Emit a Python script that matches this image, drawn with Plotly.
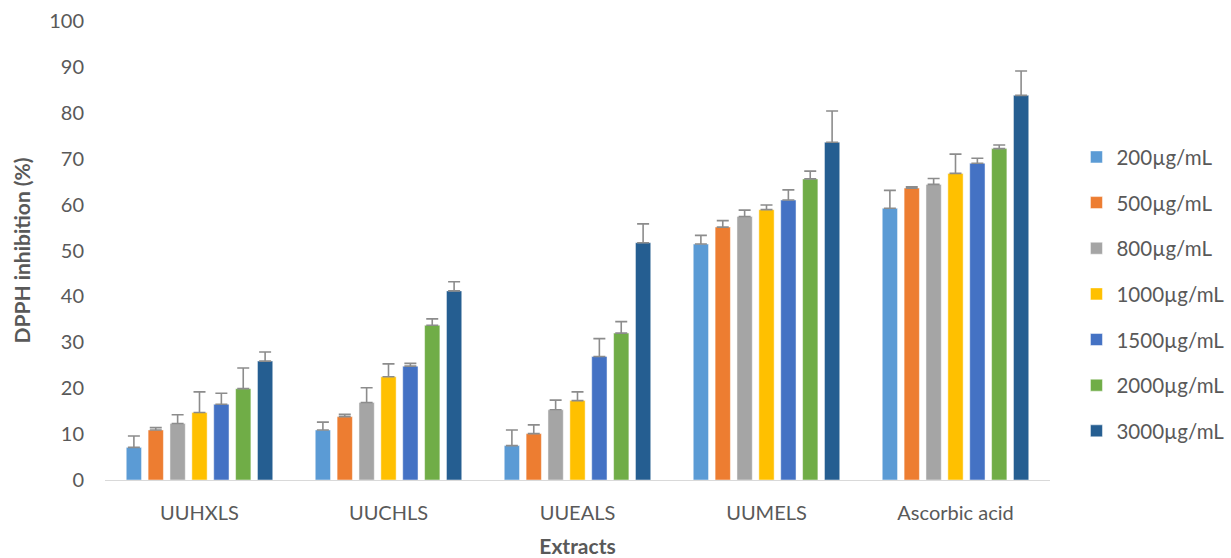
import plotly.graph_objects as go

extracts = ["UUHXLS", "UUCHLS", "UUEALS", "UUMELS", "Ascorbic acid"]
concentrations = ["200µg/mL", "500µg/mL", "800µg/mL", "1000µg/mL",
                  "1500µg/mL", "2000µg/mL", "3000µg/mL"]

# mean DPPH inhibition (%) per concentration, one value per extract
inhibition_200 = [7.1, 10.9, 7.5, 51.4, 59.2]
inhibition_500 = [10.9, 13.8, 10.1, 55.1, 63.6]
inhibition_800 = [12.3, 16.9, 15.3, 57.4, 64.4]
inhibition_1000 = [14.7, 22.5, 17.3, 58.9, 66.8]
inhibition_1500 = [16.5, 24.8, 26.9, 61.0, 69.0]
inhibition_2000 = [19.9, 33.7, 32.0, 65.6, 72.2]
inhibition_3000 = [25.9, 41.2, 51.7, 73.6, 83.8]

# standard deviations
sd_200 = [2.5, 1.7, 3.4, 1.9, 3.9]
sd_500 = [0.5, 0.5, 1.9, 1.4, 0.3]
sd_800 = [1.9, 3.2, 2.1, 1.4, 1.3]
sd_1000 = [4.5, 2.8, 1.9, 1.0, 4.2]
sd_1500 = [2.4, 0.6, 3.9, 2.2, 1.1]
sd_2000 = [4.5, 1.4, 2.5, 1.7, 0.8]
sd_3000 = [2.0, 2.0, 4.1, 6.8, 5.3]

colors = ["#5B9BD5", "#ED7D31", "#A5A5A5", "#FFC000",
          "#4472C4", "#70AD47", "#255E91"]

series = [inhibition_200, inhibition_500, inhibition_800, inhibition_1000,
          inhibition_1500, inhibition_2000, inhibition_3000]
errors = [sd_200, sd_500, sd_800, sd_1000, sd_1500, sd_2000, sd_3000]

FONT = "Lato, Calibri, Carlito, sans-serif"
GREY = "#595959"

fig = go.Figure()
for name, vals, err, col in zip(concentrations, series, errors, colors):
    fig.add_trace(go.Bar(
        x=extracts, y=vals, name=name, legendgroup=name,
        marker=dict(color=col, line=dict(color="rgba(255,255,255,0.6)", width=0.8)),
        error_y=dict(type="data", array=err, arrayminus=[0] * len(err),
                     symmetric=False, color="#8c8c8c", thickness=1.6, width=6),
    ))

fig.update_layout(
    width=1231, height=558,
    margin=dict(l=105, r=181, t=21, b=78, autoexpand=False),
    plot_bgcolor="white", paper_bgcolor="white",
    barmode="group", bargap=0.19, bargroupgap=0.3,
    font=dict(family=FONT, color=GREY, size=20),
    legend=dict(x=1.028, y=0.405, yanchor="middle", xanchor="left",
                font=dict(size=20.5, color=GREY), tracegroupgap=16,
                itemwidth=30, traceorder="grouped"),
    xaxis=dict(showline=True, linecolor="#d9d9d9", linewidth=1.2,
               ticks="", ticklabelstandoff=15,
               tickfont=dict(size=20, color=GREY),
               title=dict(text="<b>Extracts</b>", font=dict(size=21, color=GREY),
                          standoff=21)),
    yaxis=dict(range=[0, 100], dtick=10, showgrid=False, zeroline=False,
               showline=False, ticks="", ticklabelstandoff=20,
               tickfont=dict(size=20, color=GREY),
               title=dict(text="<b>DPPH inhibition (%)</b>",
                          font=dict(size=21, color=GREY), standoff=12)),
)

fig.write_html("out.html")
